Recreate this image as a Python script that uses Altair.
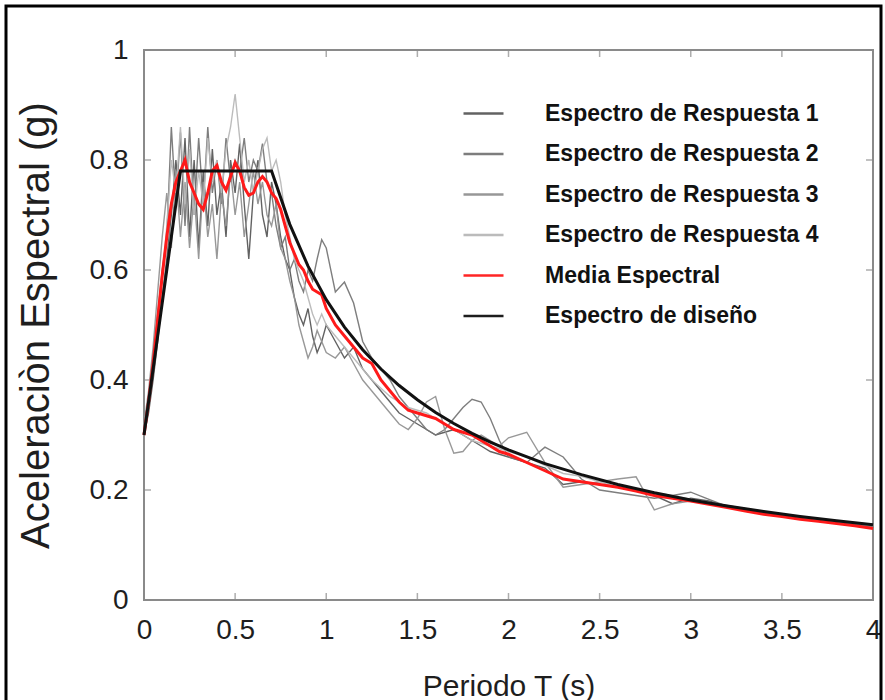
import altair as alt
import pandas as pd

# ---------------- data ----------------
T = [0, 0.025, 0.05, 0.075, 0.1, 0.125, 0.15, 0.175, 0.2, 0.225, 0.25, 0.275, 0.3, 0.325,
     0.35, 0.375, 0.4, 0.425, 0.45, 0.475, 0.5, 0.525, 0.55, 0.575, 0.6, 0.625, 0.65, 0.675,
     0.7, 0.725, 0.75, 0.775, 0.8, 0.825, 0.85, 0.875, 0.9, 0.925, 0.95, 0.975, 1.0,
     1.05, 1.1, 1.15, 1.2, 1.25, 1.3, 1.35, 1.4, 1.45, 1.5, 1.55, 1.6, 1.65, 1.7, 1.75,
     1.8, 1.85, 1.9, 1.95, 2.0,
     2.1, 2.2, 2.3, 2.4, 2.5, 2.6, 2.7, 2.8, 2.9, 3.0, 3.1, 3.2, 3.3, 3.4, 3.5, 3.6, 3.7,
     3.8, 3.9, 4.0]

resp1 = [0.30, 0.34, 0.40, 0.47, 0.55, 0.62, 0.70, 0.80, 0.70, 0.84, 0.66, 0.80, 0.64, 0.78,
         0.68, 0.82, 0.70, 0.76, 0.66, 0.80, 0.74, 0.83, 0.72, 0.62, 0.74, 0.80, 0.70, 0.66,
         0.76, 0.72, 0.66, 0.62, 0.60, 0.55, 0.52, 0.50, 0.53, 0.48, 0.45, 0.47, 0.50,
         0.47, 0.44, 0.46, 0.42, 0.40, 0.38, 0.36, 0.34, 0.33, 0.32, 0.31, 0.30, 0.305, 0.31,
         0.30, 0.29, 0.28, 0.27, 0.265, 0.26,
         0.25, 0.24, 0.21, 0.215, 0.21, 0.205, 0.20, 0.19, 0.175, 0.185, 0.18, 0.17, 0.165,
         0.16, 0.155, 0.15, 0.148, 0.143, 0.138, 0.132]

resp2 = [0.31, 0.36, 0.44, 0.52, 0.60, 0.66, 0.86, 0.72, 0.85, 0.68, 0.86, 0.70, 0.84, 0.72,
         0.86, 0.74, 0.80, 0.72, 0.84, 0.76, 0.80, 0.78, 0.84, 0.76, 0.80, 0.78, 0.83, 0.76,
         0.74, 0.68, 0.64, 0.66, 0.60, 0.62, 0.58, 0.56, 0.60, 0.58, 0.62, 0.655, 0.64,
         0.56, 0.578, 0.54, 0.47, 0.44, 0.42, 0.40, 0.37, 0.35, 0.33, 0.31, 0.30, 0.31, 0.33,
         0.35, 0.365, 0.36, 0.33, 0.29, 0.26,
         0.25, 0.278, 0.26, 0.22, 0.20, 0.195, 0.19, 0.185, 0.19, 0.196, 0.183, 0.17, 0.163,
         0.158, 0.153, 0.148, 0.145, 0.14, 0.136, 0.133]

resp3 = [0.32, 0.38, 0.46, 0.56, 0.66, 0.74, 0.64, 0.78, 0.66, 0.76, 0.64, 0.74, 0.62, 0.76,
         0.66, 0.72, 0.62, 0.74, 0.68, 0.78, 0.70, 0.76, 0.66, 0.72, 0.78, 0.72, 0.76, 0.70,
         0.68, 0.72, 0.64, 0.62, 0.58, 0.55, 0.50, 0.47, 0.44, 0.46, 0.49, 0.47, 0.45,
         0.44, 0.46, 0.43, 0.40, 0.38, 0.36, 0.34, 0.32, 0.31, 0.33, 0.36, 0.37, 0.31, 0.267,
         0.27, 0.29, 0.30, 0.29, 0.28, 0.295,
         0.305, 0.25, 0.205, 0.21, 0.215, 0.22, 0.224, 0.164, 0.175, 0.18, 0.178, 0.172, 0.166,
         0.16, 0.154, 0.15, 0.147, 0.142, 0.138, 0.134]

resp4 = [0.30, 0.35, 0.42, 0.50, 0.58, 0.68, 0.80, 0.74, 0.86, 0.72, 0.82, 0.70, 0.78, 0.72,
         0.84, 0.76, 0.80, 0.74, 0.82, 0.86, 0.92, 0.84, 0.76, 0.80, 0.74, 0.78, 0.82, 0.84,
         0.78, 0.80, 0.76, 0.70, 0.66, 0.62, 0.60, 0.58, 0.55, 0.52, 0.50, 0.52, 0.50,
         0.48, 0.46, 0.44, 0.42, 0.40, 0.385, 0.37, 0.36, 0.35, 0.345, 0.34, 0.33, 0.32, 0.31,
         0.30, 0.29, 0.285, 0.28, 0.275, 0.27,
         0.26, 0.245, 0.23, 0.225, 0.215, 0.205, 0.20, 0.195, 0.19, 0.183, 0.175, 0.168, 0.162,
         0.157, 0.152, 0.148, 0.145, 0.142, 0.14, 0.138]

mean_spec = [0.30, 0.36, 0.43, 0.51, 0.59, 0.66, 0.72, 0.76, 0.78, 0.80, 0.76, 0.74, 0.72, 0.71,
             0.74, 0.78, 0.79, 0.76, 0.745, 0.77, 0.795, 0.78, 0.75, 0.736, 0.74, 0.76, 0.77,
             0.76, 0.74, 0.73, 0.71, 0.68, 0.65, 0.63, 0.61, 0.60, 0.58, 0.565, 0.56, 0.555, 0.53,
             0.50, 0.48, 0.46, 0.44, 0.43, 0.40, 0.38, 0.36, 0.345, 0.34, 0.335, 0.33, 0.32,
             0.31, 0.305, 0.30, 0.29, 0.28, 0.27, 0.265,
             0.25, 0.235, 0.22, 0.215, 0.21, 0.205, 0.198, 0.19, 0.185, 0.18, 0.174, 0.168,
             0.162, 0.156, 0.152, 0.147, 0.143, 0.139, 0.135, 0.13]

T_design = [0, 0.2, 0.7, 0.8, 0.9, 1.0, 1.1, 1.2, 1.3, 1.4, 1.5, 1.6, 1.7, 1.8, 1.9, 2.0,
            2.2, 2.4, 2.6, 2.8, 3.0, 3.2, 3.4, 3.6, 3.8, 4.0]
design = [0.30, 0.78, 0.78, 0.683, 0.607, 0.546, 0.496, 0.455, 0.42, 0.39, 0.364, 0.341,
          0.321, 0.303, 0.287, 0.273, 0.248, 0.228, 0.21, 0.195, 0.182, 0.171, 0.161, 0.152,
          0.144, 0.137]

series_names = ["Espectro de Respuesta 1", "Espectro de Respuesta 2",
                "Espectro de Respuesta 3", "Espectro de Respuesta 4",
                "Media Espectral", "Espectro de diseño"]
series_colors = ["#5a5a5a", "#777777", "#929292", "#b8b8b8", "#ff1a1a", "#111111"]

x_ticks = [0, 0.5, 1, 1.5, 2, 2.5, 3, 3.5, 4]
y_ticks = [0, 0.2, 0.4, 0.6, 0.8, 1]

# ---------------- tables ----------------
resp_rows = []
for name, vals in zip(series_names[:4], [resp1, resp2, resp3, resp4]):
    for t, v in zip(T, vals):
        resp_rows.append({"T": t, "Sa": v, "serie": name})
resp_df = pd.DataFrame(resp_rows)
mean_df = pd.DataFrame({"T": T, "Sa": mean_spec, "serie": series_names[4]})
design_df = pd.DataFrame({"T": T_design, "Sa": design, "serie": series_names[5]})
xt_df = pd.DataFrame({"T": x_ticks})
yt_df = pd.DataFrame({"Sa": y_ticks})

FONT = "Liberation Sans"
W, H = 729, 550

x_scale = alt.Scale(domain=[0, 4], nice=False, zero=False)
y_scale = alt.Scale(domain=[0, 1], nice=False, zero=False)

x_enc = alt.X("T:Q", scale=x_scale,
              axis=alt.Axis(title="Periodo T (s)", values=x_ticks, format="~g",
                            ticks=False, tickSize=0, domain=False, grid=False,
                            labelFont=FONT, labelFontSize=28, labelColor="#1e1e1e",
                            labelPadding=16, labelFlush=False,
                            titleFont=FONT, titleFontSize=30, titleFontWeight="normal",
                            titleColor="#1e1e1e", titlePadding=27))
y_enc = alt.Y("Sa:Q", scale=y_scale,
              axis=alt.Axis(title="Aceleraciòn Espectral (g)", values=y_ticks, format="~g",
                            ticks=False, tickSize=0, domain=False, grid=False,
                            labelFont=FONT, labelFontSize=28, labelColor="#1e1e1e",
                            labelPadding=16, labelFlush=False,
                            titleFont=FONT, titleFontSize=40, titleFontWeight="normal",
                            titleColor="#1e1e1e", titlePadding=33))

color_enc = alt.Color("serie:N",
                      scale=alt.Scale(domain=series_names, range=series_colors),
                      sort=series_names,
                      legend=alt.Legend(title=None, orient="none", legendX=318, legendY=42,
                                        symbolType="stroke", symbolSize=1600,
                                        symbolStrokeWidth=2.5,
                                        labelFont=FONT, labelFontWeight="bold",
                                        labelFontSize=23, labelColor="#111111",
                                        labelOffset=40, rowPadding=6.5, labelLimit=400))

resp = alt.Chart(resp_df).mark_line(strokeWidth=1.4, opacity=0.95).encode(
    x=x_enc, y=y_enc, color=color_enc, detail="serie:N")
mean_l = alt.Chart(mean_df).mark_line(strokeWidth=3).encode(
    x=x_enc, y=y_enc, color=color_enc)
design_l = alt.Chart(design_df).mark_line(strokeWidth=3).encode(
    x=x_enc, y=y_enc, color=color_enc)

tick_col = "#8a8a8a"
t_bottom = alt.Chart(xt_df).mark_tick(orient="vertical", color=tick_col, thickness=1.5, size=7).encode(
    x=alt.X("T:Q", scale=x_scale), y=alt.value(H - 3.5))
t_top = alt.Chart(xt_df).mark_tick(orient="vertical", color=tick_col, thickness=1.5, size=7).encode(
    x=alt.X("T:Q", scale=x_scale), y=alt.value(3.5))
t_left = alt.Chart(yt_df).mark_tick(orient="horizontal", color=tick_col, thickness=1.5, size=7).encode(
    y=alt.Y("Sa:Q", scale=y_scale), x=alt.value(3.5))
t_right = alt.Chart(yt_df).mark_tick(orient="horizontal", color=tick_col, thickness=1.5, size=7).encode(
    y=alt.Y("Sa:Q", scale=y_scale), x=alt.value(W - 3.5))

frame = alt.Chart(pd.DataFrame({"k": [0]})).mark_rect(
    fill="white", fillOpacity=0, stroke="#000000", strokeWidth=3).encode(
    x=alt.value(-138), x2=alt.value(737), y=alt.value(-44), y2=alt.value(660))

chart = alt.layer(frame, t_bottom, t_top, t_left, t_right, resp, mean_l, design_l).properties(
    width=W, height=H,
    autosize=alt.AutoSizeParams(type="none"),
    padding={"left": 144, "top": 50, "right": 12, "bottom": 100},
    background="white",
).configure_view(stroke="#8a8a8a", strokeWidth=2)

chart.save("out.html", embed_options={"renderer": "svg", "actions": False})
